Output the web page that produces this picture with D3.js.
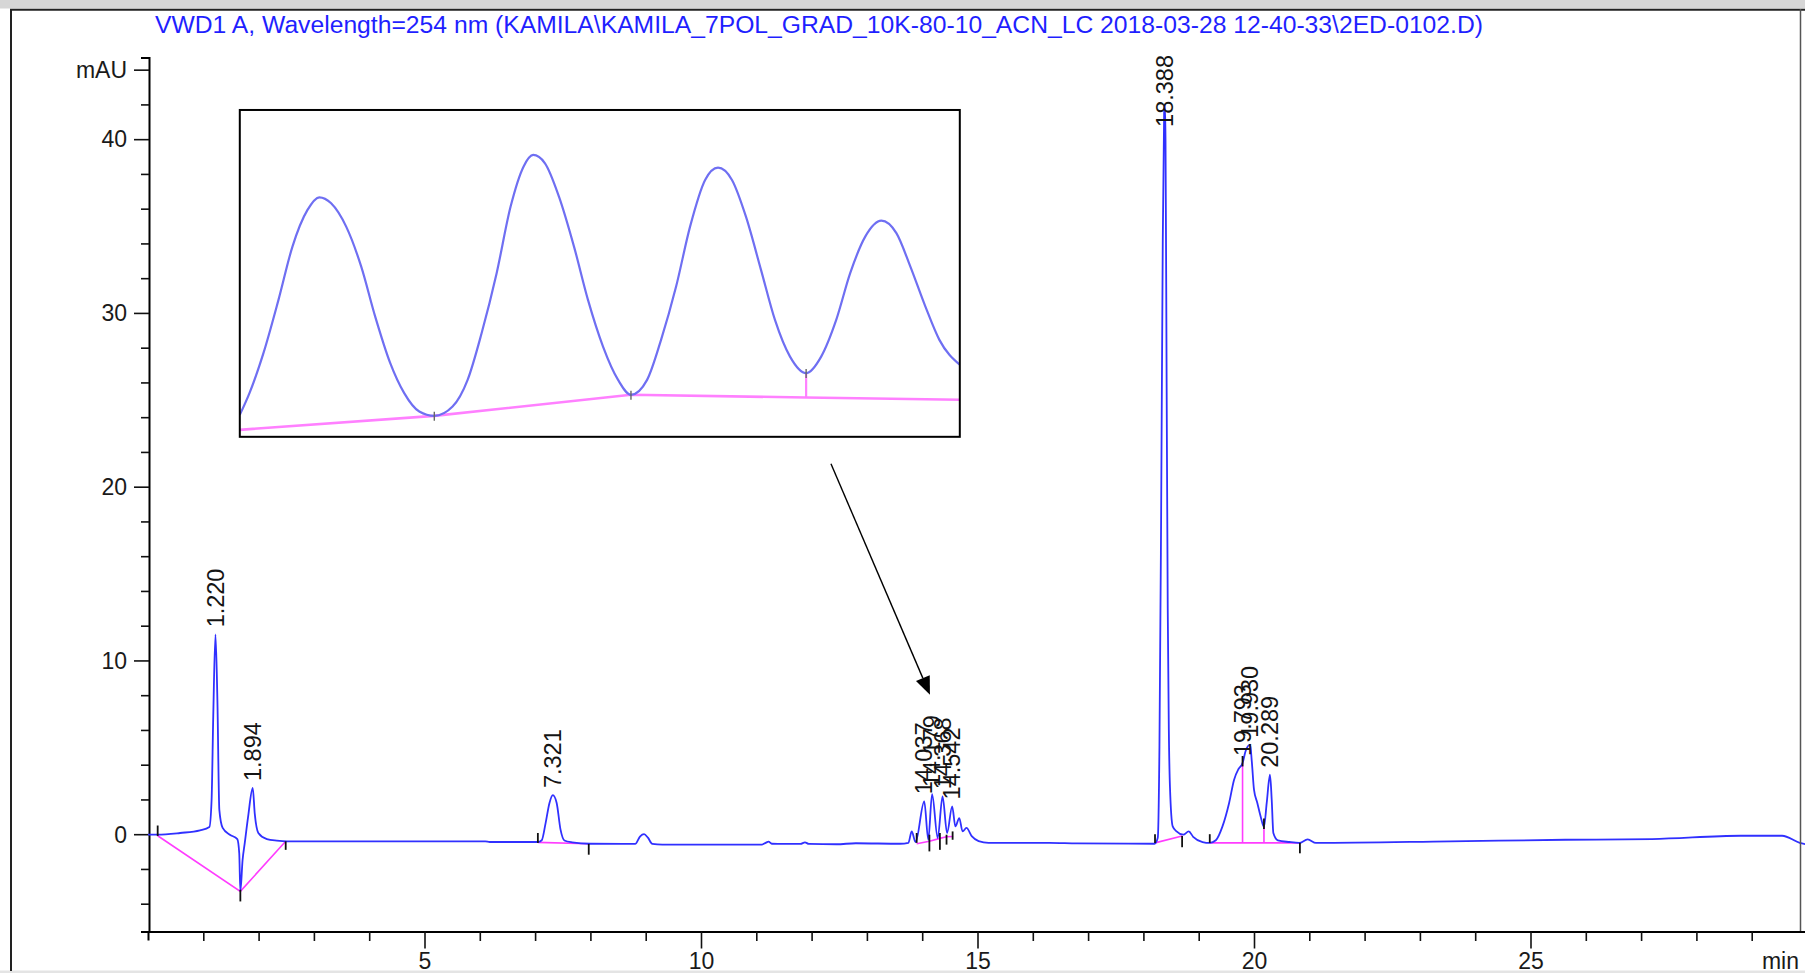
<!DOCTYPE html>
<html>
<head>
<meta charset="utf-8">
<script src="https://cdn.jsdelivr.net/npm/d3@7"></script>
<style>
  html, body { margin: 0; padding: 0; background: #fff; overflow: hidden; }
  svg { display: block; font-family: "Liberation Sans", Arial, sans-serif; }
</style>
</head>
<body>
<svg id="chart" width="1805" height="973"></svg>
<script>
// ---- VWD1 A signal, 254 nm: [retention time (min), absorbance (mAU)] ----
const chromatogram = [
  [0.00,-0.03],[0.17,-0.03],[0.58,0.07],[0.94,0.22],[1.11,0.41],[1.15,1.98],[1.18,6.8],
  [1.220,11.5],[1.255,7.7],[1.29,1.4],[1.35,0.36],[1.48,-0.03],[1.615,-0.28],[1.65,-1.1],
  [1.67,-3.3],[1.71,-1.5],[1.75,-0.5],[1.81,1.0],[1.894,2.66],[1.93,1.2],[1.995,0.07],
  [2.15,-0.28],[2.33,-0.37],[2.51,-0.41],[4.56,-0.41],[6.10,-0.41],[6.18,-0.45],
  [7.05,-0.45],[7.12,-0.35],[7.19,0.64],[7.26,1.8],[7.321,2.25],[7.39,1.8],[7.46,0.26],
  [7.53,-0.36],[7.67,-0.47],[8.0,-0.55],[8.6,-0.56],[8.81,-0.56],[8.90,-0.12],[8.97,0.0],
  [9.04,-0.2],[9.12,-0.56],[9.3,-0.6],[11.1,-0.6],[11.17,-0.5],[11.22,-0.43],[11.28,-0.55],
  [11.8,-0.56],[11.88,-0.47],[11.95,-0.56],[12.45,-0.58],[12.8,-0.52],[13.6,-0.55],
  [13.75,-0.5],[13.81,0.16],[13.88,-0.45],[14.037,1.89],[14.11,-0.32],[14.179,2.31],
  [14.28,-0.22],[14.368,2.18],[14.45,0.07],[14.542,1.6],[14.60,0.45],[14.67,0.93],
  [14.73,0.16],[14.80,0.36],[14.90,-0.13],[15.02,-0.4],[15.2,-0.5],[16.3,-0.5],
  [16.8,-0.53],[18.2,-0.55],[18.26,-0.2],[18.29,5],[18.32,18],[18.35,34],[18.375,41.5],
  [18.388,42],[18.40,40],[18.42,26],[18.44,13],[18.46,6],[18.48,2.75],[18.53,0.45],
  [18.60,0.16],[18.72,-0.03],[18.82,0.16],[18.90,-0.15],[19.07,-0.45],[19.20,-0.5],
  [19.31,-0.35],[19.43,0.45],[19.55,1.8],[19.64,3.14],[19.72,3.75],[19.793,4.1],
  [19.85,4.8],[19.930,5.15],[19.96,4.2],[20.0,2.56],[20.06,1.8],[20.12,1.02],[20.18,0.42],
  [20.23,1.8],[20.289,3.42],[20.32,2.0],[20.35,0.07],[20.43,-0.35],[20.64,-0.45],
  [20.82,-0.5],[20.97,-0.3],[21.12,-0.5],[23.55,-0.41],[25.63,-0.32],[27.2,-0.28],
  [28.8,-0.09],[29.55,-0.09],[29.87,-0.5],[30.0,-0.6]
];

// Integrated peaks (retention times, as printed)
const peakTimes = [1.220, 1.894, 7.321, 14.037, 14.179, 14.368, 14.542, 18.388, 19.793, 19.930, 20.289];

// Integration baselines: [time, mAU] vertices for each group
const baselineGroups = [
  [[0.175,-0.09],[1.67,-3.29],[2.49,-0.41]],
  [[7.05,-0.47],[7.96,-0.55]],
  [[13.90,-0.55],[14.13,-0.41],[14.32,-0.24],[14.44,-0.15],[14.56,-0.13]],
  [[18.21,-0.5],[18.70,-0.1]],
  [[19.20,-0.5],[20.83,-0.5]]
];
// Perpendicular drops from the baseline up to the signal
const dropTimes = [19.793, 20.18];
const dropBase = -0.5;

// Peak start/end markers: [time, from mAU, to mAU]
const eventMarks = [
  [0.175,0.5,-0.1],[1.67,-3.2,-3.87],[2.49,-0.41,-0.9],
  [7.05,0.07,-0.5],[7.97,-0.56,-1.18],
  [13.90,0.07,-0.5],[14.13,-0.03,-0.99],[14.32,0.07,-0.9],[14.44,-0.03,-0.6],[14.55,0.16,-0.32],
  [18.21,0.0,-0.5],[18.70,-0.1,-0.75],
  [19.20,0.0,-0.5],[19.793,4.5,3.9],[20.18,0.9,0.3],[20.83,-0.5,-1.1]
];

// Axis ticks
const xTicks = d3.range(1, 30);
const xLabelTicks = [5, 10, 15, 20, 25];
const yTicks = d3.range(-4, 45, 2);
const yLabelTicks = [0, 10, 20, 30, 40];
const yUnitTick = 44;

// Magnified detail of the 14 min cluster: [time, mAU]
const detailSignal = [
  [13.950,-0.152],[13.959,0.044],[13.972,0.405],[13.986,0.886],[13.999,1.367],[14.013,1.698],
  [14.024,1.812],[14.035,1.758],[14.049,1.547],[14.063,1.186],[14.076,0.735],[14.090,0.315],
  [14.103,0.044],[14.117,-0.122],[14.131,-0.161],[14.148,-0.077],[14.162,0.164],[14.175,0.585],
  [14.189,1.127],[14.202,1.728],[14.214,2.088],[14.223,2.194],[14.234,2.119],[14.247,1.818],
  [14.261,1.367],[14.274,0.886],[14.288,0.465],[14.302,0.164],[14.314,0.029],[14.329,0.164],
  [14.342,0.525],[14.356,1.006],[14.369,1.547],[14.383,1.968],[14.395,2.079],[14.408,1.968],
  [14.421,1.637],[14.435,1.157],[14.448,0.705],[14.462,0.374],[14.477,0.225],[14.491,0.374],
  [14.505,0.705],[14.518,1.127],[14.532,1.457],[14.547,1.601],[14.561,1.488],[14.574,1.186],
  [14.588,0.825],[14.601,0.525],[14.620,0.300]
];
const detailBaseline = [[13.950,-0.287],[14.131,-0.161],[14.314,0.029],[14.477,0.005],[14.620,-0.016]];
const detailValleys = [14.131, 14.314, 14.477];
const detailDrop = 14.477;
const detailTimeRange = [13.95, 14.62];
const detailSignalRange = [-0.35, 2.60];

// Where the magnified panel sits on the main axes (time, mAU)
const detailBoxTime = [1.66, 14.68];
const detailBoxSignal = [22.87, 41.68];
// Pointer from the panel to the cluster (time, mAU)
const pointerFrom = [12.35, 21.32];
const pointerTo = [14.14, 8.03];

const titleText = "VWD1 A, Wavelength=254 nm (KAMILA\\KAMILA_7POL_GRAD_10K-80-10_ACN_LC 2018-03-28 12-40-33\\2ED-0102.D)";

// ---- drawing ----
const W = 1805, H = 973;
const svg = d3.select("#chart");

const x = d3.scaleLinear().domain([0, 30]).range([148, 1807]);
const y = d3.scaleLinear().domain([-5.6, 44.7]).range([931.5, 57.5]);

// window chrome: grey band, frame
svg.append("rect").attr("x", 0).attr("y", 0).attr("width", W).attr("height", H).attr("fill", "#fff");
svg.append("rect").attr("x", 0).attr("y", 0).attr("width", W).attr("height", 8.5).attr("fill", "#d6d6d6");
svg.append("rect").attr("x", 0).attr("y", 970.5).attr("width", W).attr("height", 3).attr("fill", "#e4e4e4");

// title
svg.append("text")
  .attr("x", 155).attr("y", 33)
  .attr("font-size", 23)
  .attr("fill", "#1f1fff")
  .attr("textLength", 1328)
  .attr("lengthAdjust", "spacingAndGlyphs")
  .text(titleText);

const axisFont = 23;

// y axis
const yAxis = svg.append("g")
  .attr("transform", `translate(${x(0) + 1},0)`)
  .call(d3.axisLeft(y).tickValues(yTicks).tickSizeOuter(0).tickSize(8)
    .tickFormat(d => yLabelTicks.includes(d) ? String(d) : (d === yUnitTick ? "mAU" : "")));
yAxis.select(".domain").attr("stroke", "#000").attr("stroke-width", 2);
yAxis.selectAll(".tick line")
  .attr("stroke", "#111").attr("stroke-width", 1.6)
  .attr("x2", d => (yLabelTicks.includes(d) || d === yUnitTick) ? -15 : -8);
yAxis.selectAll(".tick text")
  .attr("x", -22).attr("dy", "0.34em")
  .attr("font-size", axisFont).attr("fill", "#1a1a1a")
  .attr("font-family", "Liberation Sans, Arial, sans-serif");

// x axis
const xAxis = svg.append("g")
  .attr("transform", `translate(0,${y(-5.6)})`)
  .call(d3.axisBottom(x).tickValues(xTicks).tickSizeOuter(0).tickSize(9)
    .tickFormat(d => xLabelTicks.includes(d) ? String(d) : ""));
xAxis.select(".domain").attr("stroke", "#000").attr("stroke-width", 2);
xAxis.selectAll(".tick line")
  .attr("stroke", "#111").attr("stroke-width", 1.6)
  .attr("y2", d => xLabelTicks.includes(d) ? 17 : 9.5);
xAxis.selectAll(".tick text")
  .attr("y", 37.5).attr("dy", 0)
  .attr("font-size", axisFont).attr("fill", "#1a1a1a")
  .attr("font-family", "Liberation Sans, Arial, sans-serif");
svg.append("text")
  .attr("x", 1799).attr("y", y(-5.6) + 37.5)
  .attr("text-anchor", "end")
  .attr("font-size", axisFont).attr("fill", "#1a1a1a")
  .text("min");

// magnified panel
const bx0 = x(detailBoxTime[0]), bx1 = x(detailBoxTime[1]);
const by0 = y(detailBoxSignal[1]), by1 = y(detailBoxSignal[0]);
const dx = d3.scaleLinear().domain(detailTimeRange).range([bx0, bx1]);
const dy = d3.scaleLinear().domain(detailSignalRange).range([by1, by0]);

svg.append("defs").append("clipPath").attr("id", "detail-clip")
  .append("rect").attr("x", bx0).attr("y", by0).attr("width", bx1 - bx0).attr("height", by1 - by0);

svg.append("rect")
  .attr("x", bx0).attr("y", by0).attr("width", bx1 - bx0).attr("height", by1 - by0)
  .attr("fill", "#fff");

const detail = svg.append("g").attr("clip-path", "url(#detail-clip)");
const dLine = d3.line().x(d => dx(d[0])).y(d => dy(d[1])).curve(d3.curveMonotoneX);
detail.append("path").datum(detailBaseline)
  .attr("d", d3.line().x(d => dx(d[0])).y(d => dy(d[1])))
  .attr("fill", "none").attr("stroke", "#ff80ff").attr("stroke-width", 2.6);
const dropLow = detailBaseline.find(d => d[0] === detailDrop)[1];
const dropHigh = detailSignal.find(d => d[0] === detailDrop)[1];
detail.append("line")
  .attr("x1", dx(detailDrop)).attr("x2", dx(detailDrop))
  .attr("y1", dy(dropLow)).attr("y2", dy(dropHigh))
  .attr("stroke", "#ff80ff").attr("stroke-width", 2.2);
detail.append("path").datum(detailSignal)
  .attr("d", dLine)
  .attr("fill", "none").attr("stroke", "#6f6ff2").attr("stroke-width", 2.2);
detail.selectAll("line.valley").data(detailValleys).join("line")
  .attr("class", "valley")
  .attr("x1", d => dx(d)).attr("x2", d => dx(d))
  .attr("y1", d => dy(detailSignal.find(p => p[0] === d)[1]) - 4)
  .attr("y2", d => dy(detailSignal.find(p => p[0] === d)[1]) + 5)
  .attr("stroke", "#666").attr("stroke-width", 1.4);

svg.append("rect")
  .attr("x", bx0).attr("y", by0).attr("width", bx1 - bx0).attr("height", by1 - by0)
  .attr("fill", "none").attr("stroke", "#000").attr("stroke-width", 2);

// pointer arrow
{
  const x1 = x(pointerFrom[0]), y1 = y(pointerFrom[1]);
  const x2 = x(pointerTo[0]), y2 = y(pointerTo[1]);
  const len = Math.hypot(x2 - x1, y2 - y1);
  const ux = (x2 - x1) / len, uy = (y2 - y1) / len;
  const headL = 18, headW = 7.5;
  const bxh = x2 - ux * headL, byh = y2 - uy * headL;
  svg.append("line")
    .attr("x1", x1).attr("y1", y1).attr("x2", bxh).attr("y2", byh)
    .attr("stroke", "#000").attr("stroke-width", 1.4);
  svg.append("path")
    .attr("d", `M${x2},${y2}L${bxh - uy * headW},${byh + ux * headW}L${bxh + uy * headW},${byh - ux * headW}Z`)
    .attr("fill", "#000");
}

// integration baselines
const baseLine = d3.line().x(d => x(d[0])).y(d => y(d[1]));
svg.append("g").selectAll("path").data(baselineGroups).join("path")
  .attr("d", baseLine)
  .attr("fill", "none").attr("stroke", "#ff3cff").attr("stroke-width", 1.6);

const signalAt = t => chromatogram.find(d => Math.abs(d[0] - t) < 1e-9)[1];

svg.append("g").selectAll("line").data(dropTimes).join("line")
  .attr("x1", d => x(d)).attr("x2", d => x(d))
  .attr("y1", y(dropBase)).attr("y2", d => y(signalAt(d)))
  .attr("stroke", "#ff3cff").attr("stroke-width", 1.6);

// signal trace
svg.append("path").datum(chromatogram)
  .attr("d", d3.line().x(d => x(d[0])).y(d => y(d[1])).curve(d3.curveMonotoneX))
  .attr("fill", "none").attr("stroke", "#3030ff").attr("stroke-width", 1.8)
  .attr("stroke-linejoin", "round");

// peak start/end markers
svg.append("g").selectAll("line").data(eventMarks).join("line")
  .attr("x1", d => x(d[0])).attr("x2", d => x(d[0]))
  .attr("y1", d => y(d[1])).attr("y2", d => y(d[2]))
  .attr("stroke", "#111").attr("stroke-width", 1.8);

// retention-time labels
const labelFont = 23.5;
const labels = svg.append("g").selectAll("text").data(peakTimes).join("text")
  .attr("font-size", labelFont)
  .attr("fill", "#141414")
  .attr("dy", "0.35em")
  .text(d => d.toFixed(3));
labels.attr("transform", function (d) {
  const len = this.getComputedTextLength();
  let base = y(signalAt(d)) - 7;
  if (base - len < 55) base = 55 + len;
  return `translate(${x(d)},${base}) rotate(-90)`;
});

// frame lines
svg.append("line").attr("x1", 10).attr("x2", W).attr("y1", 9.8).attr("y2", 9.8)
  .attr("stroke", "#222").attr("stroke-width", 2);
svg.append("line").attr("x1", 11).attr("x2", 11).attr("y1", 9).attr("y2", 971)
  .attr("stroke", "#222").attr("stroke-width", 2);
svg.append("line").attr("x1", 1800.5).attr("x2", 1800.5).attr("y1", 9).attr("y2", 931)
  .attr("stroke", "#555").attr("stroke-width", 1.5);
</script>
</body>
</html>
